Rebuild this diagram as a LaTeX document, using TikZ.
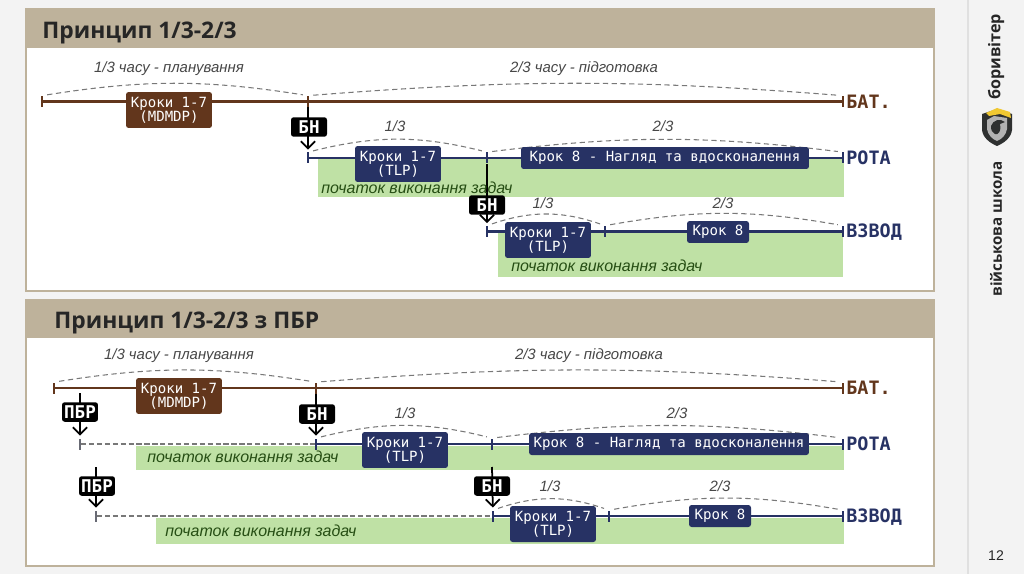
\documentclass[tikz,border=0pt]{standalone}
\usepackage{fontspec}
\setmainfont{Liberation Sans}
\newfontfamily\monofont{DejaVu Sans Mono}
\newfontfamily\headfont{Open Sans}
\usetikzlibrary{
    arrows.meta,
    positioning
}
\definecolor{pagebg}{RGB}{243,243,243}
\definecolor{tanbar}{RGB}{190,178,155}
\definecolor{batbrown}{RGB}{98,54,28}
\definecolor{rotablue}{RGB}{39,50,100}
\definecolor{greenbar}{RGB}{191,225,165}
\definecolor{greentext}{RGB}{38,78,20}
\definecolor{arcgray}{RGB}{120,120,120}
\definecolor{shieldgold}{RGB}{240,200,50}
\definecolor{shielddark}{RGB}{46,48,48}
\begin{document}
\begin{tikzpicture}[
    x=0.02cm, y=-0.02cm,
    panel/.style={draw=tanbar, line width=1.2pt, fill=white},
    headbar/.style={fill=tanbar},
    headtxt/.style={anchor=west, inner sep=0pt, text=black!85, font=\headfont\bfseries\fontsize{13}{15}\selectfont},
    greenb/.style={fill=greenbar},
    batbox/.style={fill=batbrown, text=white, rounded corners=1.5pt, inner sep=0pt, align=center,
                   minimum width=1.72cm, minimum height=0.72cm, font=\monofont\fontsize{8}{8}\selectfont},
    rotabox/.style={batbox, fill=rotablue},
    widebox/.style={rotabox, minimum height=0.44cm},
    order/.style={fill=black, text=white, rounded corners=1.5pt, inner sep=0pt, minimum width=0.72cm,
                  minimum height=0.39cm, font=\monofont\bfseries\fontsize{10}{10}\selectfont},
    batline/.style={batbrown, line width=1.3pt},
    rotaline/.style={rotablue, line width=1.3pt},
    pbrline/.style={arcgray, line width=0.8pt, dash pattern=on 3pt off 1.5pt},
    arcline/.style={arcgray, line width=0.6pt, dash pattern=on 3pt off 2pt, shorten >=3pt, shorten <=3pt},
    arr/.style={-{Straight Barb[length=4pt,width=8pt]}, line width=1pt, black, shorten >=1.5pt},
    tickbat/.style={fill=batbrown, inner sep=0pt, minimum width=0.9pt, minimum height=0.22cm},
    tickrota/.style={tickbat, fill=rotablue},
    tickpbr/.style={tickbat, fill=arcgray!80!rotablue},
    time/.style={text=black!72, font=\itshape\fontsize{8.5}{9}\selectfont},
    frac/.style={time},
    task/.style={anchor=west, inner sep=0pt, text=greentext, font=\itshape\fontsize{9.1}{10}\selectfont},
    unitbat/.style={anchor=west, inner sep=0pt, text=batbrown, font=\monofont\bfseries\fontsize{10.5}{11}\selectfont},
    unitrota/.style={unitbat, text=rotablue},
    side/.style={rotate=90, inner sep=0pt, text=black!85, font=\headfont\bfseries\fontsize{8.6}{9}\selectfont}
  ]
    \useasboundingbox (0,0) rectangle (1024,574);
    \fill[pagebg] (0,0) rectangle (1024,574);
    \draw[black!12, line width=0.6pt] (968,0) -- (968,574);

    % top panel
    \draw[panel] (26,9) rectangle (934,291);
    \fill[headbar] (26,9) rectangle (934,48);
    \node[headtxt](title1) at (42,33) {Принцип 1/3-2/3};
    \fill[greenb] (318,159) rectangle (844,197);
    \fill[greenb] (498,232) rectangle (843,277);

    \node[tickbat](bat0) at (42,101.5) {};
    \node[tickbat](bat1) at (308,101.5) {};
    \node[tickbat](bat2) at (843,101.5) {};
    \node[tickrota](rota0) at (308,158) {};
    \node[tickrota](rota1) at (487,158) {};
    \node[tickrota](rota2) at (843,158) {};
    \node[tickrota](vzv0) at (487,231.5) {};
    \node[tickrota](vzv1) at (605,231.5) {};
    \node[tickrota](vzv2) at (843,231.5) {};
    \draw[batline](bat0)--(bat1); \draw[batline](bat1)--(bat2);
    \draw[rotaline](rota0)--(rota1); \draw[rotaline](rota1)--(rota2);
    \draw[rotaline](vzv0)--(vzv1); \draw[rotaline](vzv1)--(vzv2);
    \draw[arcline](bat0.north) to[bend left=9] (bat1.north);
    \draw[arcline](bat1.north) to[bend left=4.5] (bat2.north);
    \draw[arcline](rota0.north) to[bend left=14] (rota1.north);
    \draw[arcline](rota1.north) to[bend left=7] (rota2.north);
    \draw[arcline](vzv0.north) to[bend left=19] (vzv1.north);
    \draw[arcline](vzv1.north) to[bend left=10] (vzv2.north);
    \draw[arr](bat1)--(rota0);
    \draw[arr](rota1)--(vzv0);

    \node[batbox](bkroki) at (169,110) {Кроки 1-7\\(MDMDP)};
    \node[rotabox](rkroki) at (398,164) {Кроки 1-7\\(TLP)};
    \node[widebox,minimum width=5.76cm](rkrok8) at (665,158) {Крок 8 - Нагляд та вдосконалення};
    \node[rotabox](vkroki) at (548,240) {Кроки 1-7\\(TLP)};
    \node[widebox,minimum width=1.24cm](vkrok8) at (718,232) {Крок 8};
    \node[order](bn1) at (309,127) {БН};
    \node[order](bn2) at (487,205) {БН};
    \node[time](t1) at (169,69) {1/3 часу - планування};
    \node[time](t2) at (584,69) {2/3 часу - підготовка};
    \node[frac](f1) at (395,126) {1/3};
    \node[frac](f2) at (663,126) {2/3};
    \node[frac](f3) at (543,203) {1/3};
    \node[frac](f4) at (723,203) {2/3};
    \node[task](z1) at (321,188) {початок виконання задач};
    \node[task](z2) at (511,266) {початок виконання задач};
    \node[unitbat](ubat) at (846,102) {БАТ.};
    \node[unitrota](urota) at (846,158) {РОТА};
    \node[unitrota](uvzv) at (846,232) {ВЗВОД};

    % bottom panel
    \draw[panel] (26,300) rectangle (934,566);
    \fill[headbar] (26,300) rectangle (934,338);
    \node[headtxt](title2) at (54,323) {Принцип 1/3-2/3 з ПБР};
    \fill[greenb] (136,446) rectangle (844,470);
    \fill[greenb] (156,518) rectangle (844,544);

    \node[tickbat](pbat0) at (54,388) {};
    \node[tickbat](pbat1) at (316,388) {};
    \node[tickbat](pbat2) at (843,388) {};
    \node[tickpbr](prot) at (80,444) {};
    \node[tickrota](prota0) at (316,444) {};
    \node[tickrota](prota1) at (492,444) {};
    \node[tickrota](prota2) at (843,444) {};
    \node[tickpbr](pvz) at (96,516) {};
    \node[tickrota](pvzv0) at (493,516) {};
    \node[tickrota](pvzv1) at (609,516) {};
    \node[tickrota](pvzv2) at (843,516) {};
    \coordinate (s1) at (80,393);
    \coordinate (s2) at (96,467);
    \coordinate (s3) at (492,467);
    \draw[batline](pbat0)--(pbat1); \draw[batline](pbat1)--(pbat2);
    \draw[pbrline](prot)--(prota0);
    \draw[rotaline](prota0)--(prota1); \draw[rotaline](prota1)--(prota2);
    \draw[pbrline](pvz)--(pvzv0);
    \draw[rotaline](pvzv0)--(pvzv1); \draw[rotaline](pvzv1)--(pvzv2);
    \draw[arcline](pbat0.north) to[bend left=9] (pbat1.north);
    \draw[arcline](pbat1.north) to[bend left=4.5] (pbat2.north);
    \draw[arcline](prota0.north) to[bend left=14] (prota1.north);
    \draw[arcline](prota1.north) to[bend left=7] (prota2.north);
    \draw[arcline](pvzv0.north) to[bend left=19] (pvzv1.north);
    \draw[arcline](pvzv1.north) to[bend left=10] (pvzv2.north);
    \draw[arr](s1)--(prot);
    \draw[arr](pbat1)--(prota0);
    \draw[arr](s2)--(pvz);
    \draw[arr](s3)--(pvzv0);

    \node[batbox](pbkroki) at (179,396) {Кроки 1-7\\(MDMDP)};
    \node[rotabox](prkroki) at (405,450) {Кроки 1-7\\(TLP)};
    \node[widebox,minimum width=5.6cm](prkrok8) at (669,444) {Крок 8 - Нагляд та вдосконалення};
    \node[rotabox](pvkroki) at (553,524) {Кроки 1-7\\(TLP)};
    \node[widebox,minimum width=1.24cm](pvkrok8) at (720,516) {Крок 8};
    \node[order](pbr1) at (80,412) {ПБР};
    \node[order](bn3) at (317,414) {БН};
    \node[order](pbr2) at (97,486) {ПБР};
    \node[order](bn4) at (492,486) {БН};
    \node[time](pt1) at (179,356) {1/3 часу - планування};
    \node[time](pt2) at (589,356) {2/3 часу - підготовка};
    \node[frac](pf1) at (405,413) {1/3};
    \node[frac](pf2) at (677,413) {2/3};
    \node[frac](pf3) at (550,486) {1/3};
    \node[frac](pf4) at (720,486) {2/3};
    \node[task](pz1) at (147,457) {початок виконання задач};
    \node[task](pz2) at (165,531) {початок виконання задач};
    \node[unitbat](pubat) at (846,388) {БАТ.};
    \node[unitrota](purota) at (846,444) {РОТА};
    \node[unitrota](puvzv) at (846,517) {ВЗВОД};

    % side strip
    \node[side,font=\headfont\bfseries\fontsize{9.2}{10}\selectfont](sname) at (996,57) {боривітер};
    \node[side](sschool) at (996,229) {військова школа};
    \fill[shielddark] (982,114) -- (997,109) -- (1012,114) -- (1012,130) .. controls (1011,138) and (1004,143) .. (997,146) .. controls (990,143) and (983,138) .. (982,130) -- cycle;
    \fill[shieldgold] (986,113) -- (997,108) -- (1010,112) -- (1011,118) -- (1000,114) -- (989,116) -- cycle;
    \fill[black!30] (987,120) -- (994,116) -- (1007,118) -- (1007,129) .. controls (1006,135) and (1002,139) .. (997,141) .. controls (992,139) and (988,135) .. (987,129) -- cycle;
    \fill[shielddark] (991,126) .. controls (993,120) and (1000,118) .. (1005,122) -- (1000,124) .. controls (1002,130) and (998,136) .. (995,134) .. controls (992,133) and (991,130) .. (991,126) -- cycle;
    \node[inner sep=0pt, text=black!85, font=\fontsize{8}{9}\selectfont](pageno) at (996,556) {12};
  \end{tikzpicture}
\end{document}
